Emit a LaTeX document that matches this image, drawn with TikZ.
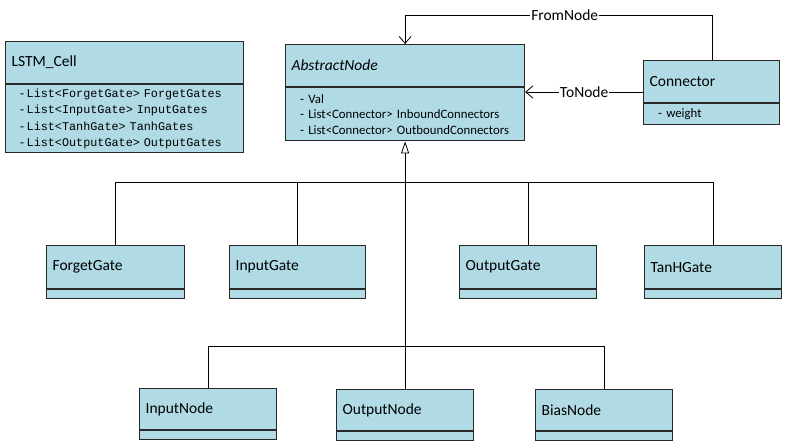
\documentclass[tikz,border=0pt]{standalone}
\usepackage{fontspec}
\setmainfont{Carlito}
\newfontfamily\codefont{Liberation Mono}
\usetikzlibrary{arrows.meta,positioning}
\definecolor{clsfill}{RGB}{176,218,228}
\definecolor{clsline}{RGB}{40,40,40}
\tikzset{
  hdr/.style={draw=clsline,line width=1.2pt,fill=clsfill,anchor=north west,align=left,inner xsep=6pt,inner ysep=0pt,font=\fontsize{15.5}{17}\selectfont},
  bdy/.style={draw=clsline,line width=1.2pt,fill=clsfill,anchor=north west,align=left,inner xsep=6pt,inner ysep=0pt,font=\fontsize{12.8}{15.5}\selectfont},
  conn/.style={draw=black,line width=0.8pt},
  inh/.style={conn,-{Triangle[open,length=12pt,width=8pt]}},
  assoc/.style={conn,-{Straight Barb[length=7pt,width=12pt]}},
  lbl/.style={fill=white,inner sep=1pt,font=\fontsize{15.5}{17}\selectfont}
}
\begin{document}
\begin{tikzpicture}[x=1pt,y=-1pt]
\useasboundingbox[fill=white] (0,0) rectangle (795,441);
% LSTM_Cell
\node[hdr,text width=226pt,minimum height=42pt] (lh) at (5,41) {LSTM\_Cell};
\node[bdy,text width=226pt,minimum height=68pt,font=\codefont\fontsize{11.8}{16.5}\selectfont] (lb) at (lh.south west) {\hspace{7pt}-\hspace{1pt}List<ForgetGate> ForgetGates\\\hspace{7pt}-\hspace{1pt}List<InputGate> InputGates\\\hspace{7pt}-\hspace{1pt}List<TanhGate> TanhGates\\\hspace{7pt}-\hspace{1pt}List<OutputGate> OutputGates};
% AbstractNode
\node[hdr,text width=227pt,minimum height=42pt] (an) at (285,44) {\itshape AbstractNode};
\node[bdy,text width=227pt,minimum height=53pt] (anb) at (an.south west) {\ \ - Val\\ \ \ - List<Connector> InboundConnectors\\ \ \ - List<Connector> OutboundConnectors};
% Connector
\node[hdr,text width=124pt,minimum height=42pt] (cn) at (643,60) {Connector};
\node[bdy,text width=124pt,minimum height=21pt] (cnb) at (cn.south west) {\ \ - weight};
% gates
\node[hdr,text width=126pt,minimum height=43pt] (fg) at (46,245) {ForgetGate};
\node[bdy,text width=126pt,minimum height=9pt] (fgb) at (fg.south west) {};
\node[hdr,text width=124pt,minimum height=43pt] (ig) at (229,245) {InputGate};
\node[bdy,text width=124pt,minimum height=9pt] (igb) at (ig.south west) {};
\node[hdr,text width=125pt,minimum height=43pt] (og) at (459,245) {OutputGate};
\node[bdy,text width=125pt,minimum height=9pt] (ogb) at (og.south west) {};
\node[hdr,text width=125pt,minimum height=43pt] (tg) at (644,245) {TanHGate};
\node[bdy,text width=125pt,minimum height=9pt] (tgb) at (tg.south west) {};
% nodes
\node[hdr,text width=125pt,minimum height=41pt] (in) at (139,388) {InputNode};
\node[bdy,text width=125pt,minimum height=9pt] (inb) at (in.south west) {};
\node[hdr,text width=125pt,minimum height=41pt] (on) at (336,389) {OutputNode};
\node[bdy,text width=125pt,minimum height=9pt] (onb) at (on.south west) {};
\node[hdr,text width=125pt,minimum height=41pt] (bn) at (535,389) {BiasNode};
\node[bdy,text width=125pt,minimum height=9pt] (bnb) at (bn.south west) {};
% buses
\coordinate (bus1) at (anb.south |- 0,182);
\coordinate (bus2) at (anb.south |- 0,346);
\coordinate (top) at (712,15);
% inheritance
\draw[conn] (fg.north) |- (bus1);
\draw[conn] (ig.north) |- (bus1);
\draw[conn] (og.north) |- (bus1);
\draw[conn] (tg.north) |- (bus1);
\draw[conn] (in.north) |- (bus2);
\draw[conn] (bn.north) |- (bus2);
\draw[inh] (on.north) -- (anb.south);
% associations
\draw[assoc] (cn.north -| top) -- (top) -| (an.north) node[lbl,pos=0.24] {FromNode};
\draw[assoc] (cn.west |- 0,92) -- (an.east |- 0,92) node[lbl,midway] {ToNode};
\end{tikzpicture}
\end{document}
